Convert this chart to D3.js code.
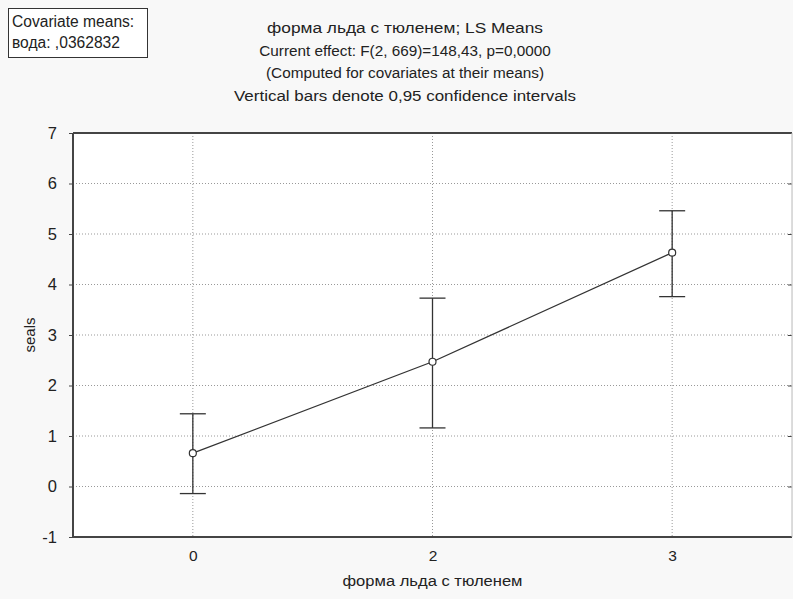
<!DOCTYPE html>
<html><head><meta charset="utf-8">
<script src="https://cdn.jsdelivr.net/npm/d3@7"></script>
<style>body{margin:0;background:#f8f8f8;}svg{display:block;font-family:"Liberation Sans",Arial,sans-serif;}</style>
</head><body>
<script>
const categories = ["0", "2", "3"];
const means = [0.66, 2.47, 4.63];
const upper = [1.44, 3.73, 5.46];
const lower = [-0.14, 1.16, 3.76];
const yTicks = [-1, 0, 1, 2, 3, 4, 5, 6, 7];
const titleLines = ["форма льда с тюленем; LS Means", "Current effect: F(2, 669)=148,43, p=0,0000", "(Computed for covariates at their means)", "Vertical bars denote 0,95 confidence intervals"];
const covLines = ["Covariate means:", "вода: ,0362832"];
const xLabel = "форма льда с тюленем";
const yLabel = "seals";

const W = 793, H = 599;
const m = {left: 73, right: 1, top: 133, bottom: 62};
const svg = d3.select("body").append("svg").attr("width", W).attr("height", H);
svg.append("rect").attr("width", W).attr("height", H).attr("fill", "#f8f8f8");

const x = d3.scalePoint().domain(categories).range([m.left, W - m.right]).padding(0.5);
const y = d3.scaleLinear().domain([-1, 7]).range([H - m.bottom, m.top]);

svg.append("rect").attr("x", m.left).attr("y", m.top).attr("width", W - m.right - m.left).attr("height", H - m.bottom - m.top).attr("fill", "#fff");

// grid
const g = svg.append("g");
g.selectAll(".hg").data(yTicks.slice(1, -1)).join("line")
  .attr("x1", m.left).attr("x2", W - m.right).attr("y1", d => y(d)).attr("y2", d => y(d))
  .attr("stroke", "#999").attr("stroke-width", 1).attr("stroke-dasharray", "1,2");
g.selectAll(".vg").data(categories).join("line")
  .attr("x1", d => x(d)).attr("x2", d => x(d)).attr("y1", m.top).attr("y2", H - m.bottom)
  .attr("stroke", "#999").attr("stroke-width", 1).attr("stroke-dasharray", "1,2");

// axes
const yAxis = d3.axisLeft(y).tickValues(yTicks).tickSize(4).tickPadding(12).tickFormat(d => String(d));
const ya = svg.append("g").attr("transform", `translate(${m.left},0)`).call(yAxis);
ya.select(".domain").remove();
ya.selectAll("text").attr("font-size", 16.5).attr("fill", "#222");
ya.selectAll("line").attr("stroke", "#444");
const yAxisR = d3.axisRight(y).tickValues(yTicks).tickSize(4).tickFormat("");
const yr = svg.append("g").attr("transform", `translate(${W - m.right - 4},0)`).call(yAxisR);
yr.select(".domain").remove();
yr.selectAll("line").attr("stroke", "#444");

const xAxis = d3.axisBottom(x).tickSize(0).tickPadding(13);
const xa = svg.append("g").attr("transform", `translate(0,${H - m.bottom})`).call(xAxis);
xa.select(".domain").remove();
xa.selectAll("text").attr("font-size", 15.5).attr("fill", "#222");

// frame
svg.append("line").attr("x1", m.left).attr("x2", W - m.right).attr("y1", m.top).attr("y2", m.top).attr("stroke", "#444").attr("stroke-width", 2);
svg.append("line").attr("x1", m.left).attr("x2", W - m.right).attr("y1", H - m.bottom).attr("y2", H - m.bottom).attr("stroke", "#444").attr("stroke-width", 2);
svg.append("line").attr("x1", m.left).attr("x2", m.left).attr("y1", m.top).attr("y2", H - m.bottom).attr("stroke", "#444").attr("stroke-width", 2);
svg.append("line").attr("x1", W - m.right).attr("x2", W - m.right).attr("y1", m.top).attr("y2", H - m.bottom).attr("stroke", "#bbb").attr("stroke-width", 1);

// error bars
const data = categories.map((c, i) => ({c, m: means[i], u: upper[i], l: lower[i]}));
const eb = svg.append("g").attr("stroke", "#333").attr("stroke-width", 1.3);
eb.selectAll(".v").data(data).join("line").attr("x1", d => x(d.c)).attr("x2", d => x(d.c)).attr("y1", d => y(d.u)).attr("y2", d => y(d.l));
eb.selectAll(".cu").data(data).join("line").attr("x1", d => x(d.c) - 13).attr("x2", d => x(d.c) + 13).attr("y1", d => y(d.u)).attr("y2", d => y(d.u));
eb.selectAll(".cl").data(data).join("line").attr("x1", d => x(d.c) - 13).attr("x2", d => x(d.c) + 13).attr("y1", d => y(d.l)).attr("y2", d => y(d.l));

// line
svg.append("path").datum(data).attr("d", d3.line().x(d => x(d.c)).y(d => y(d.m)))
  .attr("fill", "none").attr("stroke", "#333").attr("stroke-width", 1.3);
svg.selectAll(".pt").data(data).join("circle").attr("cx", d => x(d.c)).attr("cy", d => y(d.m)).attr("r", 3.5)
  .attr("fill", "#fff").attr("stroke", "#333").attr("stroke-width", 1.2);

// titles
const titleWidths = [276, null, null, 342];
svg.selectAll(".t").data(titleLines).join("text").attr("x", 405).attr("y", (d, i) => 33 + i * 22.7)
  .attr("text-anchor", "middle").attr("font-size", 15.3).attr("fill", "#222")
  .each(function(d, i) { if (titleWidths[i]) d3.select(this).attr("textLength", titleWidths[i]).attr("lengthAdjust", "spacingAndGlyphs"); })
  .text(d => d);

// covariate box
svg.append("rect").attr("x", 8.5).attr("y", 8.5).attr("width", 139).attr("height", 49).attr("fill", "#fff").attr("stroke", "#333").attr("stroke-width", 1);
svg.selectAll(".cv").data(covLines).join("text").attr("x", 12).attr("y", (d, i) => 27 + i * 21)
  .attr("font-size", 15.6).attr("fill", "#222").text(d => d);

// axis labels
svg.append("text").attr("x", (m.left + W - m.right) / 2).attr("y", 586).attr("text-anchor", "middle").attr("font-size", 15.5)
  .attr("textLength", 180).attr("lengthAdjust", "spacingAndGlyphs").attr("fill", "#222").text(xLabel);
svg.append("text").attr("transform", `translate(35,${(m.top + H - m.bottom) / 2}) rotate(-90)`).attr("text-anchor", "middle").attr("font-size", 15).attr("fill", "#222").text(yLabel);
</script>
</body></html>
